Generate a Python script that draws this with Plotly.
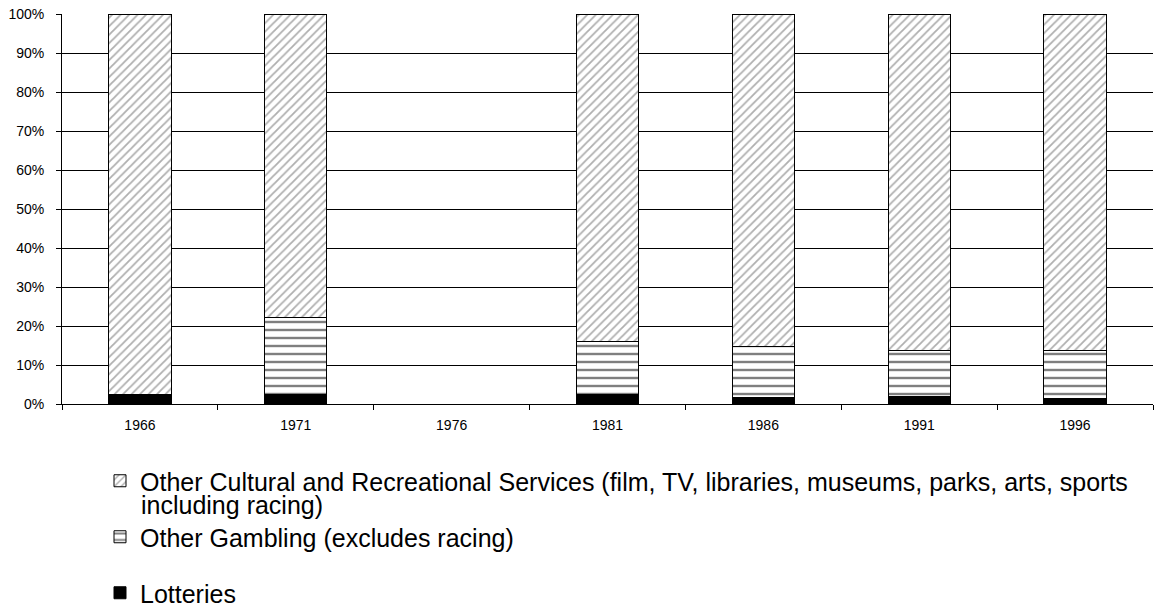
import plotly.graph_objects as go

years = ["1966", "1971", "1976", "1981", "1986", "1991", "1996"]
lotteries = [2.5, 2.5, None, 2.5, 1.7, 2.0, 1.3]
other_gambling = [0.0, 19.7, None, 13.4, 13.0, 11.8, 12.4]
other_cultural = [97.5, 77.8, None, 84.1, 85.3, 86.2, 86.3]

name_lot = "Lotteries"
name_gam = "Other Gambling (excludes racing)"
name_cul_line1 = "Other Cultural and Recreational Services (film, TV, libraries, museums, parks, arts, sports"
name_cul_line2 = "including racing)"

FONT = "Liberation Sans, Arial, sans-serif"
W, H = 1161, 610
LEG_SIZE = 25

fig = go.Figure()
fig.add_trace(go.Bar(
    x=years, y=lotteries, name=name_lot, legend="legend3",
    marker=dict(color="black", line=dict(color="black", width=1)),
))
fig.add_trace(go.Bar(
    x=years, y=other_gambling, name=name_gam, legend="legend2",
    marker=dict(color="white", line=dict(color="black", width=1),
                pattern=dict(shape="-", fgcolor="black", bgcolor="white", size=8, solidity=0.3)),
))
fig.add_trace(go.Bar(
    x=years, y=other_cultural, name=name_cul_line1, legend="legend",
    marker=dict(color="white", line=dict(color="black", width=1),
                pattern=dict(shape="/", fgcolor="#606060", bgcolor="white", size=6, solidity=0.3)),
))

legend_common = dict(font=dict(family=FONT, size=LEG_SIZE, color="black"), bgcolor="rgba(0,0,0,0)",
                     itemwidth=30, valign="top", xanchor="left", yanchor="top",
                     xref="container", yref="container", borderwidth=0, visible=True)

def cx(p):
    return p / W

def cy(p):
    return 1 - p / H

def py(p):
    return (404 - p) / 390.0

def px(p):
    return (p - 62) / 1091.0

fig.add_annotation(text=name_cul_line2, xref="paper", yref="paper", x=px(139), y=py(505),
                   xanchor="left", yanchor="middle", showarrow=False,
                   font=dict(family=FONT, size=LEG_SIZE, color="black"))

fig.update_layout(
    barmode="stack",
    bargap=0.6,
    showlegend=True,
    width=W, height=H,
    margin=dict(l=62, r=8, t=14, b=206, autoexpand=False),
    plot_bgcolor="white", paper_bgcolor="white",
    font=dict(family=FONT, size=14, color="black"),
    legend=dict(x=cx(100), y=cy(458), **legend_common),
    legend2=dict(x=cx(100), y=cy(514), **legend_common),
    legend3=dict(x=cx(100), y=cy(570), **legend_common),
    xaxis=dict(type="category", showline=True, linecolor="black", linewidth=1,
               ticks="outside", tickson="boundaries", ticklen=5, tickcolor="black",
               ticklabelstandoff=8,
               showgrid=False, tickfont=dict(size=14), fixedrange=True, automargin=False),
    yaxis=dict(range=[0, 100], dtick=10, ticksuffix="%", showgrid=True, gridcolor="black",
               gridwidth=1, showline=True, linecolor="black", linewidth=1,
               ticks="outside", ticklen=5, tickcolor="black", zeroline=False,
               ticklabelstandoff=9,
               tickfont=dict(size=14), fixedrange=True, automargin=False),
)

fig.write_html("out.html", config={"displayModeBar": False},
               post_script="document.body.style.margin='0';")
